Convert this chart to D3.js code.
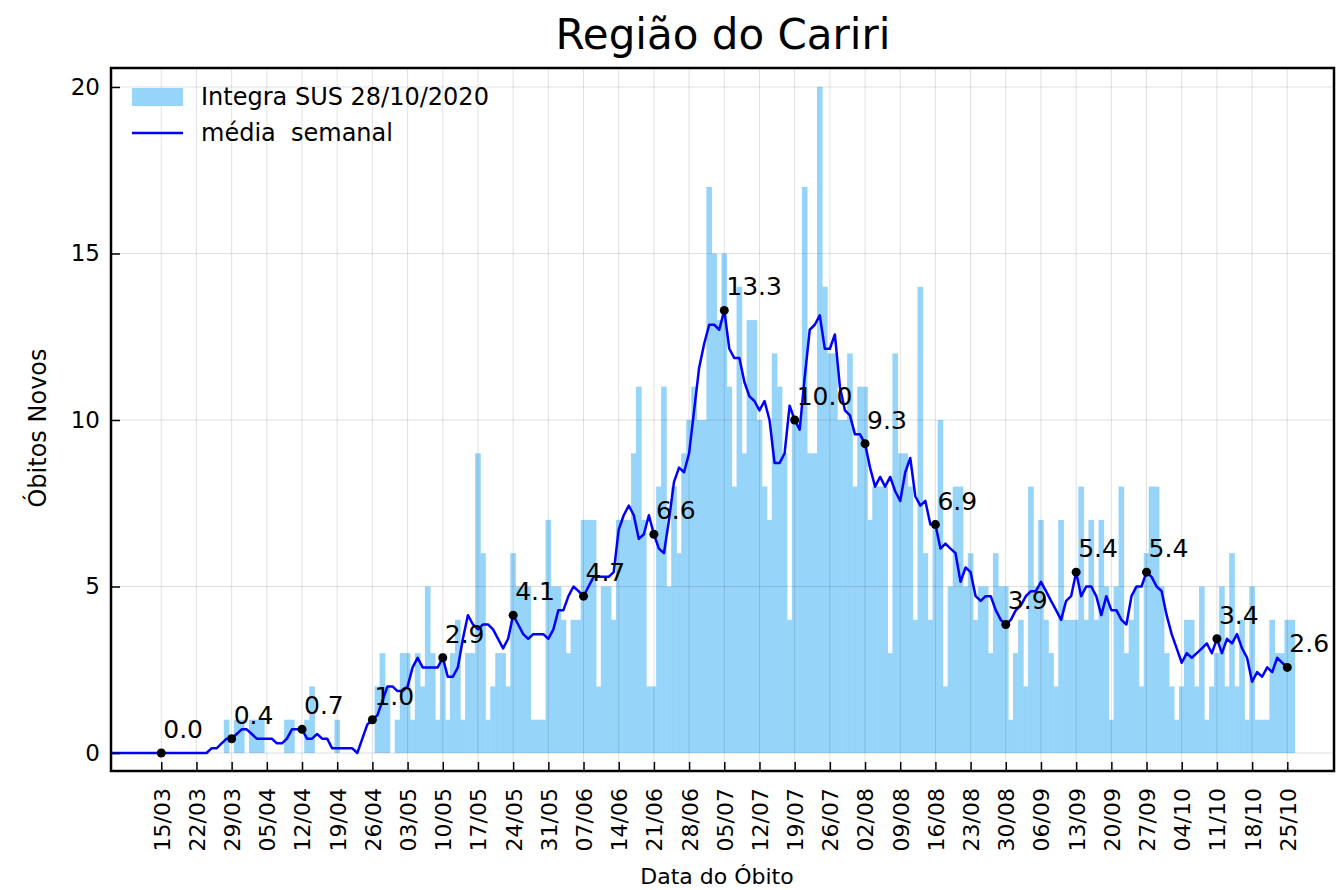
<!DOCTYPE html>
<html>
<head>
<meta charset="utf-8">
<script src="https://cdn.jsdelivr.net/npm/d3@7"></script>
<style>
body { margin: 0; background: #fff; }
text { font-family: "DejaVu Sans", sans-serif; fill: #000; }
</style>
</head>
<body>
<div id="chart"></div>
<script>
// daily deaths, one value per day starting 05/03/2020 (last day 28/10)
const first_day = "05/03";
const obitos = [
    0, 0, 0, 0, 0, 0, 0, 0, 0, 0,
    0, 0, 0, 0, 0, 0, 0, 0, 0, 0, 0, 0, 0, 1, 0, 1, 1, 0, 1, 1, 1, 0, 0, 0, 0, 1, 1, 0, 0, 1, 2, 0, 0, 0, 0, 1, 0, 0, 0, 0, 0, 0, 0, 2, 3, 2, 0,
    1, 3, 3, 1, 3, 2, 5, 3, 1, 3, 1, 3, 4, 1, 3, 3, 9, 6, 1, 2, 3, 3, 2, 6, 5, 5, 5, 1, 1, 1, 7, 5, 5, 4, 3, 4, 4, 7, 7, 7,
    2, 5, 5, 4, 7, 7, 7, 9, 11, 7, 2, 2, 8, 11, 5, 8, 6, 9, 10, 11, 10, 10, 17, 15, 13, 15, 11, 8, 14, 9, 13, 13, 10, 8, 7, 12,
    11, 9, 4, 10, 10, 17, 9, 9, 20, 14, 12, 12, 10, 10, 12, 8, 11, 11, 7, 8, 8, 8, 3, 12, 9, 9, 8, 4, 14, 6, 4, 7, 10, 2, 5, 8,
    8, 5, 6, 4, 5, 5, 3, 6, 5, 5, 1, 3, 4, 2, 8, 5, 7, 4, 3, 2, 7, 4, 4, 4, 8, 4, 7, 4, 7, 5, 1, 5, 8, 3, 4, 5, 2, 6,
    8, 8, 5, 3, 2, 1, 2, 4, 4, 2, 5, 1, 2, 3, 5, 2, 6, 2, 4, 1, 5, 1, 1, 1, 4, 3, 3, 4, 4, 0, 0
];

// weekly mean as drawn, one value per day starting 05/03/2020 (last day 25/10)
const media = [
    0, 0, 0, 0, 0, 0, 0, 0, 0, 0,
    0, 0, 0, 0, 0, 0, 0, 0, 0, 0, 0.14, 0.14, 0.29, 0.43, 0.43, 0.57, 0.71, 0.71, 0.57, 0.43, 0.43, 0.43, 0.43, 0.29,
    0.29, 0.43, 0.71, 0.71, 0.71, 0.43, 0.43, 0.57, 0.43, 0.43, 0.14, 0.14, 0.14, 0.14, 0.14, 0, 0.43, 0.86, 1.0, 1.14,
    1.57, 2.0, 2.0, 1.86, 1.86, 2.0, 2.57, 2.86, 2.57, 2.57, 2.57, 2.57, 2.86, 2.29, 2.29, 2.57, 3.43, 4.14, 3.86, 3.71,
    3.86, 3.86, 3.71, 3.43, 3.14, 3.43, 4.14, 3.86, 3.57, 3.43, 3.57, 3.57, 3.57, 3.43, 3.71, 4.29, 4.29, 4.71, 5.0, 4.86,
    4.71, 5.0, 5.29, 5.29, 5.29, 5.29, 5.43, 6.71, 7.14, 7.43, 7.14, 6.43, 6.57, 7.14, 6.57, 6.14, 6.0, 7.0, 8.14, 8.57,
    8.43, 9.0, 10.29, 11.57, 12.29, 12.86, 12.86, 12.71, 13.29, 12.14, 11.86, 11.86, 11.14, 10.71, 10.57, 10.29, 10.57, 10.0, 8.71, 8.71,
    9.0, 10.43, 10.0, 9.71, 11.29, 12.71, 12.86, 13.14, 12.14, 12.14, 12.57, 11.0, 10.29, 10.14, 9.57, 9.57, 9.29, 8.57, 8.0, 8.29,
    8.0, 8.29, 7.86, 7.57, 8.43, 8.86, 7.71, 7.43, 7.57, 6.86, 6.86, 6.14, 6.29, 6.14, 6.0, 5.14, 5.57, 5.43, 4.71, 4.57,
    4.71, 4.71, 4.29, 4.0, 3.86, 4.0, 4.29, 4.43, 4.71, 4.86, 4.86, 5.14, 4.86, 4.57, 4.29, 4.0, 4.57, 4.71, 5.43, 4.71,
    5.0, 5.0, 4.71, 4.14, 4.71, 4.29, 4.29, 4.0, 3.86, 4.71, 5.0, 5.0, 5.43, 5.29, 5.0, 4.86, 4.14, 3.57, 3.14, 2.71,
    3.0, 2.86, 3.0, 3.14, 3.29, 3.0, 3.43, 3.0, 3.43, 3.29, 3.57, 3.14, 2.86, 2.14, 2.43, 2.29, 2.57, 2.43, 2.86, 2.71, 2.57
];

const tick_labels = [
    "15/03", "22/03", "29/03", "05/04", "12/04", "19/04", "26/04", "03/05", "10/05", "17/05", "24/05",
    "31/05", "07/06", "14/06", "21/06", "28/06", "05/07", "12/07", "19/07", "26/07", "02/08", "09/08",
    "16/08", "23/08", "30/08", "06/09", "13/09", "20/09", "27/09", "04/10", "11/10", "18/10", "25/10"
];
const y_ticks = [0, 5, 10, 15, 20];

const title = "Região do Cariri";
const bar_name = "Integra SUS 28/10/2020";
const line_name = "média  semanal";

const parse_day = s => {
    const [dd, mm] = s.split("/").map(Number);
    return new Date(Date.UTC(2020, mm - 1, dd));
};

const start = parse_day(first_day);
const bar_data = obitos.map((v, i) => ({ date: d3.utcDay.offset(start, i), value: v }));
const line_data = media.map((v, i) => ({ date: d3.utcDay.offset(start, i), value: v }));
const tick_dates = tick_labels.map(parse_day);
// the mean is written next to every other tick
const marked = tick_dates.filter((d, i) => i % 2 === 0)
    .map(d => line_data.find(p => +p.date === +d));

const W = 1336, H = 890;
const margin = { top: 68, right: 2, bottom: 119, left: 111 };
const width = W - margin.left - margin.right;
const height = H - margin.top - margin.bottom;

const bar_color = "#97d4fa";
const line_color = "#0000ff";

const svg = d3.select("#chart").append("svg")
    .attr("width", W)
    .attr("height", H);

const g = svg.append("g")
    .attr("transform", `translate(${margin.left},${margin.top})`);

const x = d3.scaleUtc()
    .domain([new Date(Date.UTC(2020, 2, 5, 0)), new Date(Date.UTC(2020, 10, 3, 7))])
    .range([0, width]);
const y = d3.scaleLinear()
    .domain([-0.54, 20.57])
    .range([height, 0]);

g.append("defs").append("clipPath").attr("id", "clip")
    .append("rect").attr("width", width).attr("height", height);

const half_day = 12 * 3600 * 1000;

// bars, a little wider than a day so no seams show between them
g.append("g")
    .attr("clip-path", "url(#clip)")
    .selectAll("rect")
    .data(bar_data.filter(d => d.value > 0))
    .enter().append("rect")
    .attr("x", d => x(new Date(+d.date - half_day)) - 0.3)
    .attr("width", d => x(new Date(+d.date + half_day)) - x(new Date(+d.date - half_day)) + 0.6)
    .attr("y", d => y(d.value))
    .attr("height", d => y(0) - y(d.value))
    .attr("fill", bar_color);

// grid over the bars
const grid = g.append("g").attr("stroke", "#000").attr("stroke-opacity", 0.12).attr("stroke-width", 1);
grid.selectAll("line.gx")
    .data(tick_dates)
    .enter().append("line")
    .attr("x1", d => x(d)).attr("x2", d => x(d))
    .attr("y1", 0).attr("y2", height);
grid.selectAll("line.gy")
    .data(y_ticks)
    .enter().append("line")
    .attr("x1", 0).attr("x2", width)
    .attr("y1", d => y(d)).attr("y2", d => y(d));

// weekly mean
g.append("path")
    .datum(line_data)
    .attr("clip-path", "url(#clip)")
    .attr("fill", "none")
    .attr("stroke", line_color)
    .attr("stroke-width", 2.5)
    .attr("stroke-linejoin", "round")
    .attr("d", d3.line()
        .x(d => x(d.date))
        .y(d => y(d.value))
    );

// marked values
const fmt = d3.format(".1f");
g.append("g")
    .selectAll("circle")
    .data(marked)
    .enter().append("circle")
    .attr("cx", d => x(d.date))
    .attr("cy", d => y(d.value))
    .attr("r", 4.5)
    .attr("fill", "#000");
g.append("g")
    .selectAll("text")
    .data(marked)
    .enter().append("text")
    .attr("x", d => x(d.date) + 2)
    .attr("y", d => y(d.value) - 15)
    .style("font-size", "25px")
    .text(d => fmt(d.value));

// axes, ticks pointing inwards
const x_axis = g.append("g")
    .attr("transform", `translate(0,${height})`)
    .call(d3.axisBottom(x).tickValues(tick_dates).tickSize(-9).tickFormat(d3.utcFormat("%d/%m")));
x_axis.select(".domain").remove();
x_axis.selectAll("line").attr("stroke", "#000").attr("stroke-width", 1.5);
x_axis.selectAll("text")
    .attr("transform", "rotate(-90)")
    .attr("x", -17)
    .attr("y", 0)
    .attr("dy", "0.36em")
    .attr("text-anchor", "end")
    .style("font-size", "22px");

const y_axis = g.append("g")
    .call(d3.axisLeft(y).tickValues(y_ticks).tickSize(-9).tickFormat(d3.format("d")));
y_axis.select(".domain").remove();
y_axis.selectAll("line").attr("stroke", "#000").attr("stroke-width", 1.5);
y_axis.selectAll("text")
    .attr("x", -11)
    .style("font-size", "23px");

// frame
g.append("rect")
    .attr("width", width)
    .attr("height", height)
    .attr("fill", "none")
    .attr("stroke", "#000")
    .attr("stroke-width", 2.5);

// legend
const legend = g.append("g").attr("transform", "translate(21,20)");
legend.append("rect")
    .attr("x", 0).attr("y", 0)
    .attr("width", 51).attr("height", 18)
    .attr("fill", bar_color);
legend.append("text")
    .attr("x", 69).attr("y", 9).attr("dy", "0.35em")
    .style("font-size", "24px")
    .text(bar_name);
legend.append("line")
    .attr("x1", 0).attr("x2", 51)
    .attr("y1", 45).attr("y2", 45)
    .attr("stroke", line_color).attr("stroke-width", 2.5);
legend.append("text")
    .attr("x", 69).attr("y", 45).attr("dy", "0.35em")
    .style("font-size", "24px")
    .style("white-space", "pre")
    .text(line_name);

// titles
svg.append("text")
    .attr("x", 723).attr("y", 49)
    .attr("text-anchor", "middle")
    .style("font-size", "42px")
    .text(title);

svg.append("text")
    .attr("x", 717).attr("y", 884)
    .attr("text-anchor", "middle")
    .style("font-size", "22px")
    .text("Data do Óbito");

svg.append("text")
    .attr("transform", "translate(46,428) rotate(-90)")
    .attr("text-anchor", "middle")
    .style("font-size", "24px")
    .text("Óbitos Novos");
</script>
</body>
</html>
